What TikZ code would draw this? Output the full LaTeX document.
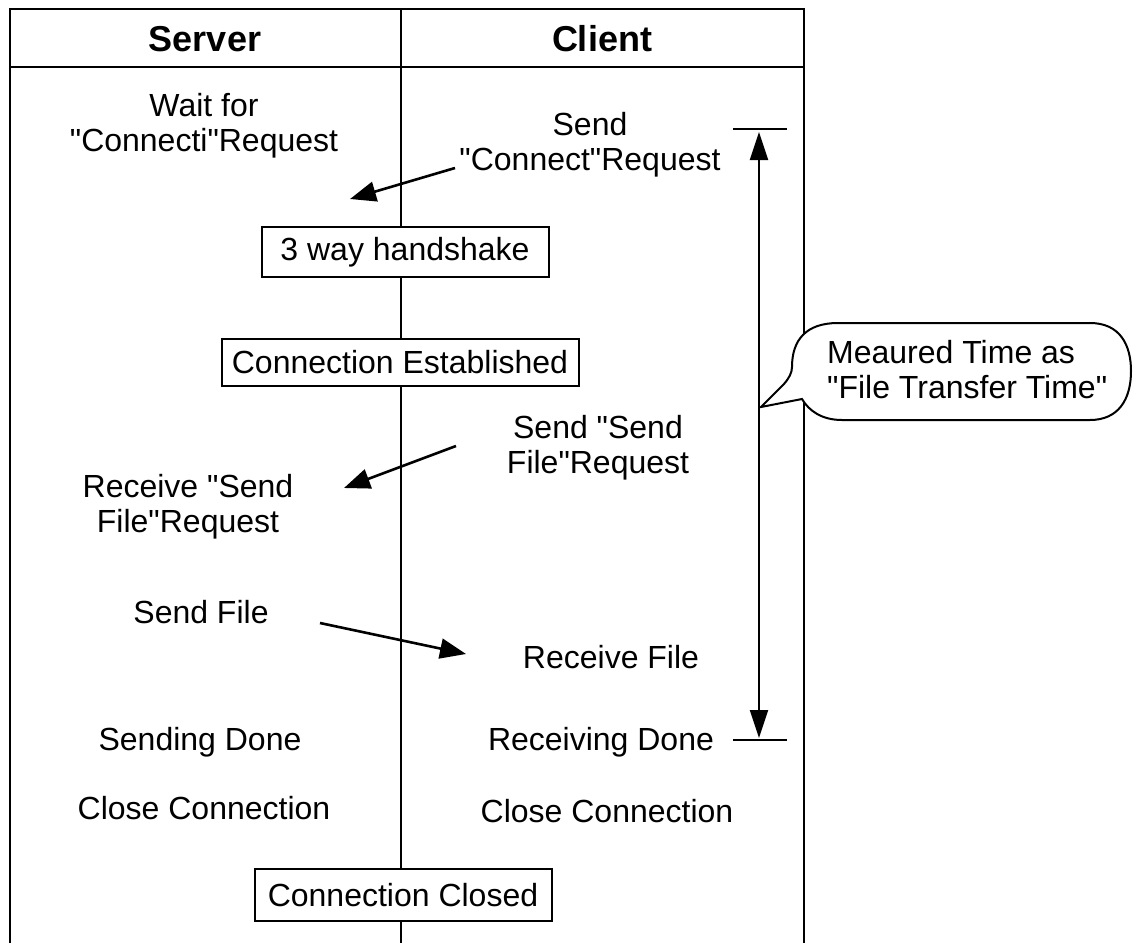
\documentclass[tikz,border=0pt]{standalone}
\usepackage{fontspec}
\setmainfont{Liberation Sans}[Ligatures=TeXOff]
\usetikzlibrary{arrows.meta}
\begin{document}
\begin{tikzpicture}[x=1pt,y=-1pt,
  lbl/.style={inner sep=0pt, align=center, font=\fontsize{32}{35}\selectfont},
  hdr/.style={inner sep=0pt, font=\fontsize{36}{40}\selectfont\bfseries},
  stagebox/.style={draw, line width=2pt, fill=white, inner sep=0pt, font=\fontsize{32}{36}\selectfont},
  frameline/.style={line width=2pt},
  msg/.style={line width=2.6pt, -{Triangle[length=26pt,width=20pt]}},
  tick/.style={line width=2pt},
  measure/.style={line width=2pt, {Triangle[length=28pt,width=18pt]}-{Triangle[length=28pt,width=18pt]}},
  callout/.style={draw, line width=2pt, fill=white}
]
\useasboundingbox (0,0) rectangle (1133,943);

% frame
\draw[frameline] (10,943) -- (10,9) -- (804,9) -- (804,943);
\draw[frameline] (10,67) -- (804,67);

% headers
\node[hdr] (srv) at (205,39) {Server};
\node[hdr] (cli) at (602,39) {Client};

% stage boxes
\node[stagebox, minimum width=287pt, minimum height=50pt] (hs) at (405,252) {3 way handshake};
\node[stagebox, minimum width=357pt, minimum height=47pt] (ce) at (400,362) {Connection Established};
\node[stagebox, minimum width=297pt, minimum height=52pt] (cc) at (403,895) {Connection Closed};

% divider
\coordinate (dtop) at (401,9);
\coordinate (dbot) at (401,943);
\draw[frameline] (dtop) -- (hs.north -| dtop);
\draw[frameline] (hs.south -| dtop) -- (ce.north -| dtop);
\draw[frameline] (ce.south -| dtop) -- (cc.north -| dtop);
\draw[frameline] (cc.south -| dtop) -- (dbot);

% server texts
\node[lbl] (s1) at (204,126) {Wait for\\"Connecti"Request};
\node[lbl] (s2) at (188,507) {Receive "Send\\File"Request};
\node[lbl] (s3) at (201,612) {Send File};
\node[lbl] (s4) at (200,742) {Sending Done};
\node[lbl] (s5) at (204,808) {Close Connection};

% client texts
\node[lbl] (c1) at (590,145) {Send\\"Connect"Request};
\node[lbl] (c2) at (598,448) {Send "Send\\File"Request};
\node[lbl] (c3) at (611,657) {Receive File};
\node[lbl] (c4) at (601,742) {Receiving Done};
\node[lbl] (c5) at (607,811) {Close Connection};

% message arrows
\coordinate (a1s) at (455,168);
\coordinate (a1e) at (350,199);
\coordinate (a2s) at (456,446);
\coordinate (a2e) at (344,488);
\coordinate (a3s) at (320,623);
\coordinate (a3e) at (466,654);
\draw[msg] (a1s) -- (a1e);
\draw[msg] (a2s) -- (a2e);
\draw[msg] (a3s) -- (a3e);

% measurement
\coordinate (mt) at (759,129);
\coordinate (mb) at (759,740);
\draw[tick] (733,129) -- (787,129);
\draw[tick] (733,740) -- (787,740);
\draw[measure, shorten <=3pt, shorten >=2pt] (mt) -- (mb);

% callout
\coordinate (ptip) at (761,407);
\draw[callout] (792,367) .. controls (792,340) and (806,323) .. (838,323)
  -- (1090,323) .. controls (1120,323) and (1131,345) .. (1131,371)
  .. controls (1131,400) and (1118,420) .. (1090,420)
  -- (842,420) .. controls (822,420) and (809,411) .. (802,399)
  -- (ptip) -- (784,384) .. controls (789,378) and (792,373) .. (792,367) -- cycle;
\node[lbl, align=left, anchor=west] (co) at (827,370) {Meaured Time as\\"File Transfer Time"};
\end{tikzpicture}
\end{document}
